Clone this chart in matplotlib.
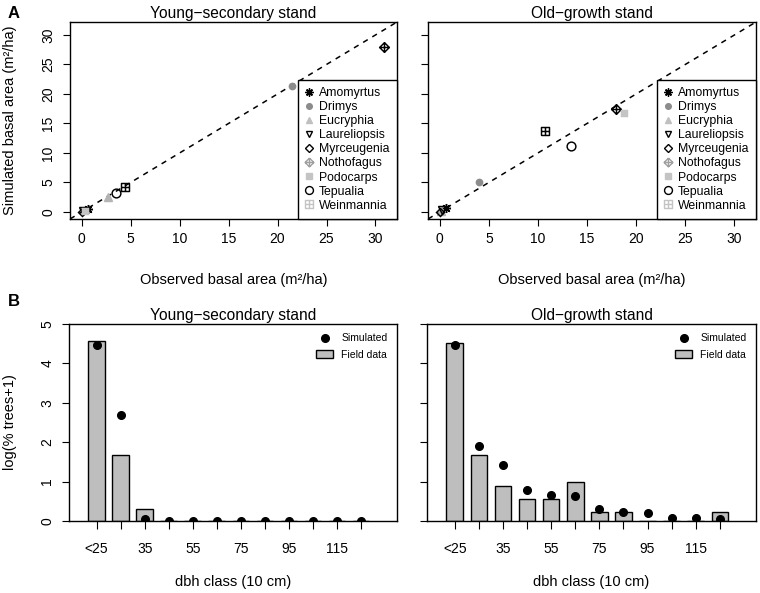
import matplotlib
matplotlib.use("Agg")
import matplotlib.pyplot as plt
from matplotlib.path import Path
from matplotlib.lines import Line2D
from matplotlib.patches import Patch
import numpy as np

plt.rcParams['font.family'] = ['Liberation Sans', 'DejaVu Sans']

# ---- data: basal area per species (m2/ha) ----
species = ['Amomyrtus', 'Drimys', 'Eucryphia', 'Laureliopsis', 'Myrceugenia',
           'Nothofagus', 'Podocarps', 'Tepualia', 'Weinmannia']
young_obs = [0.6, 21.5, 2.7, 0.1, 0.0, 30.9, 0.3, 3.5, 4.4]
young_sim = [0.5, 21.4, 2.6, 0.1, 0.0, 27.9, 0.2, 3.2, 4.2]
old_obs = [0.6, 4.0, 0.1, 0.2, 0.0, 17.9, 18.8, 13.4, 10.7]
old_sim = [0.7, 5.1, 0.1, 0.3, 0.0, 17.4, 16.7, 11.2, 13.8]

# ---- data: diameter distributions, log(% trees + 1) ----
dbh_labels = ['<25', '25', '35', '45', '55', '65', '75', '85', '95', '105', '115', '125']
young_field = [4.57, 1.67, 0.31, 0, 0, 0, 0, 0, 0, 0, 0, 0]
young_simulated = [4.46, 2.69, 0.05, 0, 0, 0, 0, 0, 0, 0, 0, 0]
old_field = [4.52, 1.68, 0.90, 0.55, 0.55, 0.99, 0.22, 0.22, 0, 0, 0, 0.22]
old_simulated = [4.47, 1.91, 1.41, 0.78, 0.67, 0.64, 0.30, 0.24, 0.20, 0.08, 0.08, 0.05]

# marker shapes (R pch 9 and pch 12)
M, L = Path.MOVETO, Path.LINETO
diamond_plus = Path([(0, 1), (1, 0), (0, -1), (-1, 0), (0, 1), (0, 1), (0, -1), (-1, 0), (1, 0)],
                    [M, L, L, L, L, M, L, M, L])
square_plus = Path([(-1, -1), (1, -1), (1, 1), (-1, 1), (-1, -1), (0, -1), (0, 1), (-1, 0), (1, 0)],
                   [M, L, L, L, L, M, L, M, L])

# marker, plot colour, legend colour, filled, size
styles = {
    'Amomyrtus':    ((8, 2, 0), 'black', 'black', False, 6.5),
    'Drimys':       ('o', '#8c8c8c', '#8c8c8c', True, 4.5),
    'Eucryphia':    ('^', '#b4b4b4', '#c0c0c0', True, 5.5),
    'Laureliopsis': ('v', 'black', 'black', False, 5.5),
    'Myrceugenia':  ('D', 'black', 'black', False, 4.3),
    'Nothofagus':   (diamond_plus, 'black', '#a0a0a0', False, 7),
    'Podocarps':    ('s', '#c4c4c4', '#c4c4c4', True, 4.5),
    'Tepualia':     ('o', 'black', 'black', False, 6.3),
    'Weinmannia':   (square_plus, 'black', '#c4c4c4', False, 5.8),
}


def scatter_panel(ax, obs, sim, title, show_ylabels):
    ax.axline((0, 0), slope=1, color='black', lw=1.1, ls=(0, (3.5, 3.5)), zorder=1)
    for sp, x, y in zip(species, obs, sim):
        mk, col, _, filled, ms = styles[sp]
        ax.plot([x], [y], marker=mk, ls='none', color=col, ms=ms, mew=1.05,
                mfc=col if filled else 'none', zorder=3)
    ax.set_xlim(-1.2, 32.2)
    ax.set_ylim(-1.2, 32.2)
    ticks = np.arange(0, 31, 5)
    ax.set_xticks(ticks)
    ax.set_yticks(ticks)
    ax.tick_params(axis='x', length=5, pad=4.5, labelsize=10)
    ax.tick_params(axis='y', length=5, pad=5.5, labelsize=10, labelleft=show_ylabels)
    for t in ax.get_yticklabels():
        t.set_rotation(90)
        t.set_va('center')
    ax.set_title(title, fontsize=11.2, pad=3)
    ax.set_xlabel('Observed basal area (m²/ha)', fontsize=10.5, va='center')
    ax.xaxis.set_label_coords(0.5, -0.31)
    if show_ylabels:
        ax.set_ylabel('Simulated basal area (m²/ha)', fontsize=10.5, va='center')
        ax.yaxis.set_label_coords(-0.183, 0.5)
    handles = []
    for sp in species:
        mk, _, lcol, filled, ms = styles[sp]
        handles.append(Line2D([], [], marker=mk, ls='none', color=lcol, ms=ms * 0.9, mew=1.0,
                              mfc=lcol if filled else 'none'))
    leg = ax.legend(handles, species, loc='lower right', borderaxespad=0, fontsize=8.8,
                    handlelength=0.6, handletextpad=0.5, labelspacing=0.17, borderpad=0.6,
                    fancybox=False, framealpha=1, edgecolor='black')
    leg.get_frame().set_linewidth(1.0)


def bar_panel(ax, field, simulated, title, show_ylabels):
    pos = np.arange(len(dbh_labels))
    ax.bar(pos, field, width=0.69, color='#bebebe', edgecolor='black', lw=1.0,
           label='Field data', zorder=2)
    ax.plot(pos, simulated, 'o', color='black', ms=5.5, label='Simulated', zorder=3)
    ax.set_xlim(-1.15, 12.5)
    ax.set_ylim(0, 5)
    ax.set_xticks(pos)
    ax.set_xticklabels([lab if i % 2 == 0 else '' for i, lab in enumerate(dbh_labels)])
    ax.set_yticks(range(6))
    ax.tick_params(axis='x', length=6, pad=9, labelsize=10)
    ax.tick_params(axis='y', length=5, pad=5.5, labelsize=10, labelleft=show_ylabels)
    for t in ax.get_yticklabels():
        t.set_rotation(90)
        t.set_va('center')
    ax.set_title(title, fontsize=11.2, pad=3)
    ax.set_xlabel('dbh class (10 cm)', fontsize=10.5, va='center')
    ax.xaxis.set_label_coords(0.5, -0.308)
    if show_ylabels:
        ax.set_ylabel('log(% trees+1)', fontsize=10.5, va='center')
        ax.yaxis.set_label_coords(-0.18, 0.5)
    h = [Line2D([], [], marker='o', ls='none', color='black', ms=5.5),
         Patch(facecolor='#bebebe', edgecolor='black', lw=1.0)]
    ax.legend(h, ['Simulated', 'Field data'], loc='upper right', frameon=False, fontsize=7.5,
              handlelength=1.6, handleheight=0.7, handletextpad=0.8, labelspacing=0.6,
              borderaxespad=0.5)


fig = plt.figure(figsize=(7.6, 5.93), dpi=100)
W, H = 760, 593


def add_axes(x0, x1, ytop, ybot):
    return fig.add_axes([x0 / W, 1 - ybot / H, (x1 - x0) / W, (ybot - ytop) / H])


axA1 = add_axes(70, 397, 22, 219)
axA2 = add_axes(428, 756, 22, 219)
axB1 = add_axes(69, 397, 324, 521)
axB2 = add_axes(427, 756, 324, 521)

scatter_panel(axA1, young_obs, young_sim, 'Young\u2212secondary stand', True)
scatter_panel(axA2, old_obs, old_sim, 'Old\u2212growth stand', False)
bar_panel(axB1, young_field, young_simulated, 'Young\u2212secondary stand', True)
bar_panel(axB2, old_field, old_simulated, 'Old\u2212growth stand', False)

for ax in (axA1, axA2, axB1, axB2):
    for s in ax.spines.values():
        s.set_linewidth(1.0)

fig.text(14 / W, 1 - 13 / H, 'A', fontsize=12, fontweight='bold', ha='center', va='center')
fig.text(14 / W, 1 - 302 / H, 'B', fontsize=12, fontweight='bold', ha='center', va='center')

fig.savefig('out.png', dpi=100)
